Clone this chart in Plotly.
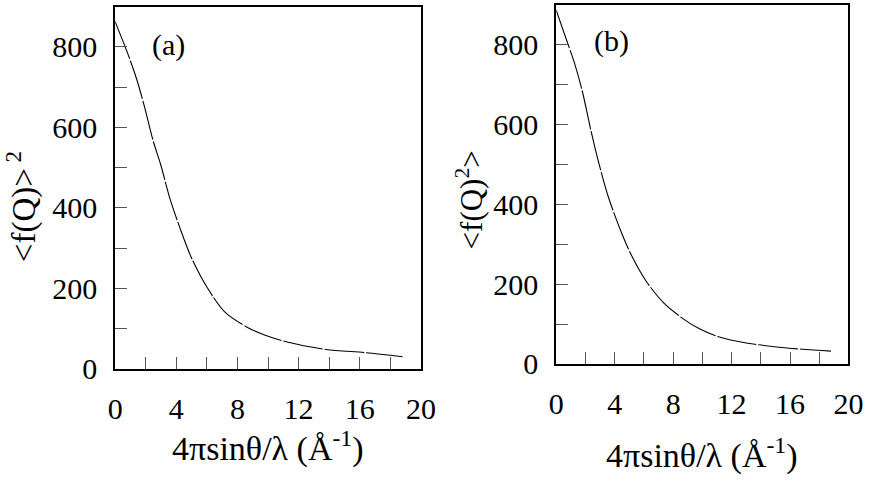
import plotly.graph_objects as go

W, H = 880, 490

# Panel (a): <f(Q)>^2
qa = [0.0, 0.85, 1.4, 1.91, 2.5, 2.97, 3.6, 4.25, 4.99, 6.05, 7.2, 8.6, 9.77, 11.25, 13.8, 16.35, 18.8]
fa = [863, 781, 721, 653, 565, 509, 421, 349, 276, 200, 140, 104, 84, 66.5, 48, 40, 30]

# Panel (b): <f(Q)^2>
qb = [0.0, 0.67, 1.22, 1.78, 2.34, 2.9, 3.56, 4.45, 5.12, 6.12, 7.35, 8.69, 9.8, 11.1, 13.1, 15.8, 18.8]
fb = [886, 815, 757, 684, 590, 505, 419, 330, 274, 209, 153, 113, 88, 68, 52, 40, 32]

x_major = [0, 4, 8, 12, 16, 20]
x_labels = ["0", "4", "8", "12", "16", "20"]
x_minor = [2, 6, 10, 14, 18]
y_major = [0, 200, 400, 600, 800]
y_labels = ["0", "200", "400", "600", "800"]
y_minor = [100, 300, 500, 700]

FONT = "Liberation Serif"

fig = go.Figure()
line_style = dict(color="black", width=1.1, dash="40px,2px", shape="spline", smoothing=0.8)
fig.add_trace(go.Scatter(x=qa, y=fa, mode="lines", line=line_style, xaxis="x", yaxis="y", showlegend=False))
fig.add_trace(go.Scatter(x=qb, y=fb, mode="lines", line=line_style, xaxis="x2", yaxis="y2", showlegend=False))

tick_style = dict(ticks="inside", ticklen=12, tickwidth=1, tickcolor="#555")

def xax(domain, anchor):
    return dict(domain=domain, anchor=anchor, range=[0, 20], tickmode="array",
                tickvals=x_major, ticktext=x_labels,
                minor=dict(tickmode="array", tickvals=x_minor, **tick_style), **tick_style,
                showline=True, linecolor="black", linewidth=2, mirror=True,
                showgrid=False, zeroline=False, ticklabelstandoff=12,
                tickfont=dict(family=FONT, size=30, color="black"))

def yax(domain, anchor):
    return dict(domain=domain, anchor=anchor, range=[0, 900], tickmode="array",
                tickvals=y_major, ticktext=y_labels,
                minor=dict(tickmode="array", tickvals=y_minor, **tick_style), **tick_style,
                showline=True, linecolor="black", linewidth=2, mirror=True,
                showgrid=False, zeroline=False, ticklabelstandoff=10,
                tickfont=dict(family=FONT, size=30, color="black"))

fig.update_layout(
    width=W, height=H,
    margin=dict(l=0, r=0, t=0, b=0),
    paper_bgcolor="white", plot_bgcolor="white",
    xaxis=xax([110 / W, 424 / W], "y"),
    yaxis=yax([1 - 382 / H, 1 - 7 / H], "x"),
    xaxis2=xax([563 / W, 863 / W], "y2"),
    yaxis2=yax([1 - 377 / H, 1 - 5 / H], "x2"),
    font=dict(family=FONT, color="black"),
)

ann = [
    dict(text="(a)", x=165 / W, y=1 - 47 / H, size=30),
    dict(text="(b)", x=620 / W, y=1 - 42 / H, size=30),
    dict(text="4πsinθ/λ (Å<sup>-1</sup>)", x=267 / W, y=1 - 463 / H, size=34),
    dict(text="4πsinθ/λ (Å<sup>-1</sup>)", x=713 / W, y=1 - 470 / H, size=34),
    dict(text="&lt;f(Q)&gt;<sup> 2</sup>", x=14 / W, y=1 - 214 / H, textangle=-90, size=33),
    dict(text="&lt;f(Q)<sup>2</sup>&gt;", x=474 / W, y=1 - 207 / H, textangle=-90, size=31),
]
for a in ann:
    size = a.pop("size")
    fig.add_annotation(xref="paper", yref="paper", showarrow=False, xanchor="center", yanchor="middle",
                       font=dict(family=FONT, size=size, color="black"), **a)

fig.write_html("out.html")
